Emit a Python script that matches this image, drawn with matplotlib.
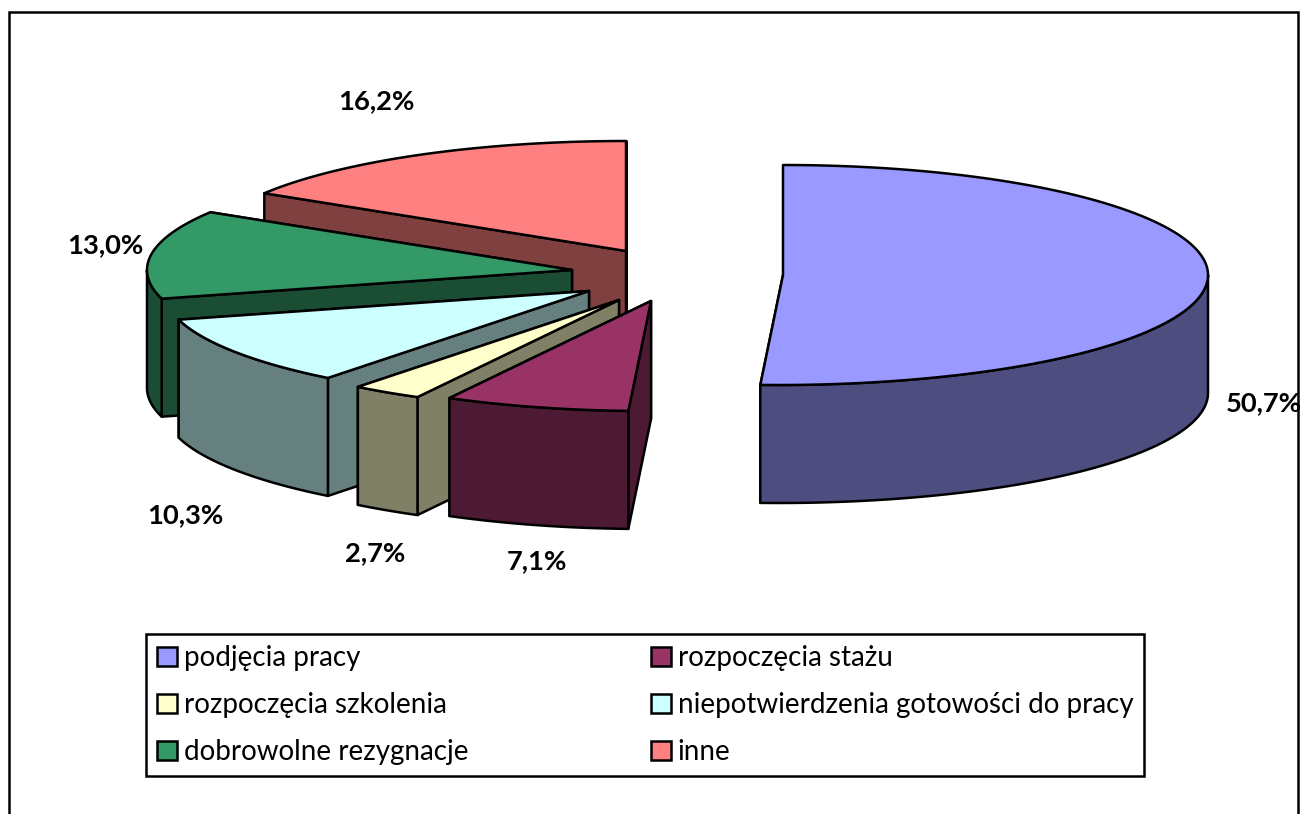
import numpy as np
import matplotlib
matplotlib.use('Agg')
import matplotlib.pyplot as plt
from matplotlib.patches import Polygon, Rectangle, Patch

# slice names and shares, clockwise from 12 o'clock
categories = ['podjęcia pracy', 'rozpoczęcia stażu', 'rozpoczęcia szkolenia',
              'niepotwierdzenia gotowości do pracy', 'dobrowolne rezygnacje', 'inne']
shares = [50.7, 7.1, 2.7, 10.3, 13.0, 16.2]
top_colors = ['#9999FF', '#993366', '#FFFFCC', '#CCFFFF', '#339966', '#FF8080']
side_colors = ['#4D4D80', '#4D1A33', '#808066', '#668080', '#1A4D33', '#804040']

# layout in pixels: where each exploded slice has its apex, and label centres
apexes = [(783, 275), (651, 301), (619, 300), (589, 291), (572, 270), (626, 251)]
label_centres = [(1264, 403), (537, 561), (375, 553), (185, 515), (105, 245), (376, 101)]
RX, RY, DEPTH = 425, 110, 118
LW = 1.8

plt.rcParams['font.family'] = ['Lato', 'DejaVu Sans']

fig = plt.figure(figsize=(13.02, 8.14), dpi=100)
ax = fig.add_axes([0, 0, 1, 1])
ax.set_xlim(0, 1302)
ax.set_ylim(814, 0)
ax.axis('off')

# outer chart frame runs off the bottom of the picture
ax.add_patch(Rectangle((9, 12), 1289, 830, fc='white', ec='black', lw=LW))


def rim_points(apex, angles):
    # the front of the pie leans a little to the left, a perspective effect
    lean = 4 * np.clip(-np.cos(angles), 0, 1) ** 8
    return np.column_stack([apex[0] + RX * np.sin(angles) - lean, apex[1] - RY * np.cos(angles)])


def draw_slice(apex, start, end, top, side, z):
    arc = rim_points(apex, np.linspace(start, end, 200))
    drop = np.array([0, DEPTH])
    centre = np.array(apex, dtype=float)
    style = dict(ec='black', lw=LW, joinstyle='round', zorder=z)
    # cut faces first, the end one sits behind the solid
    for p in (arc[-1], arc[0]):
        quad = [centre, p, p + drop, centre + drop]
        ax.add_patch(Polygon(quad, closed=True, fc=side, **style))
    # outer wall, only the part facing the viewer
    low, high = max(start, np.pi / 2), min(end, 3 * np.pi / 2)
    if high > low:
        wall = rim_points(apex, np.linspace(low, high, 200))
        ax.add_patch(Polygon(np.vstack([wall, wall[::-1] + drop]), closed=True, fc=side, **style))
    ax.add_patch(Polygon(np.vstack([centre, arc]), closed=True, fc=top, **style))


edges = np.radians(np.cumsum([0] + shares) * 3.6)

# paint from the back of the pie to the front, the big slice stands apart
for n, i in enumerate([5, 4, 3, 2, 1, 0]):
    draw_slice(apexes[i], edges[i], edges[i + 1], top_colors[i], side_colors[i], 3 + n)

for value, (x, y) in zip(shares, label_centres):
    ax.text(x, y, f'{value:.1f}%'.replace('.', ','), ha='center', va='center',
            fontsize=19.7, fontweight='bold', color='black', zorder=20)

# legend fills column first, so reorder to read across
order = [0, 2, 4, 1, 3, 5]
handles = [Patch(fc=top_colors[i], ec='black', lw=LW, label=categories[i]) for i in order]
leg = ax.legend(handles=handles, ncol=2, loc='upper left', bbox_to_anchor=(146, 634),
                bbox_transform=ax.transData, fontsize=20, frameon=True, fancybox=False,
                edgecolor='black', framealpha=1, borderpad=0.4, borderaxespad=0,
                handlelength=0.7, handleheight=0.7, handletextpad=0.25,
                labelspacing=0.76, columnspacing=6.6)
leg.get_frame().set_linewidth(LW)
leg.set_zorder(20)

fig.savefig('out.png', dpi=100)
